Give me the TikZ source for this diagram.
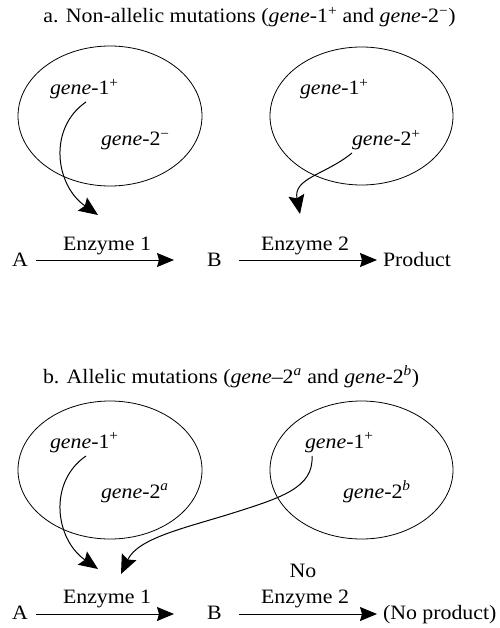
\documentclass[tikz,border=0pt]{standalone}
\usepackage{fontspec}
\setmainfont{Liberation Serif}[FakeStretch=1.07]
\usetikzlibrary{arrows.meta}
\newcommand{\gn}{\textit{gene}}
\newcommand{\mns}{\textsuperscript{\char"2212}}
\begin{document}
\begin{tikzpicture}[x=1bp,y=-1bp,
  txt/.style={inner sep=0pt,outer sep=0pt,anchor=base west,font=\fontsize{20.5}{24}\selectfont},
  flow/.style={line width=1bp,-{Stealth[length=17bp,width=14bp,inset=2bp]}},
  gact/.style={line width=1bp,-{Stealth[length=19bp,width=16bp,inset=3bp]}}]
\useasboundingbox (0,0) rectangle (500,628);
% ---------- part a ----------
\node[txt,anchor=base] (ta) at (249.5,23) {a. Non-allelic mutations (\gn-1\textsuperscript{+} and \gn-2\mns)};
\draw[line width=0.8bp] (110,116) ellipse [x radius=92,y radius=70];
\draw[line width=0.8bp] (361.5,116) ellipse [x radius=91.5,y radius=69];
\node[txt] (a11) at (50,95) {\gn-1\textsuperscript{+}};
\node[txt] (a12) at (101,146) {\gn-2\mns};
\node[txt] (a21) at (300,95) {\gn-1\textsuperscript{+}};
\node[txt] (a22) at (352,146) {\gn-2\textsuperscript{+}};
\node[txt] (aA) at (12,266) {A};
\node[txt] (aE1) at (63,250) {Enzyme 1};
\node[txt] (aB) at (207,266) {B};
\node[txt] (aE2) at (261,250) {Enzyme 2};
\node[txt] (aP) at (383,266) {Product};
\coordinate (aAr) at (36,260);
\coordinate (aBl) at (174,260);
\coordinate (aBr) at (239,260);
\coordinate (aPl) at (377,260);
\coordinate (ag1) at (86,102);
\coordinate (at1) at (98,215);
\coordinate (ag2) at (352,153);
\coordinate (at2) at (300,214);
\draw[flow] (aAr) -- (aBl);
\draw[flow] (aBr) -- (aPl);
\draw[gact] (ag1) .. controls (48,128) and (55,185) .. (at1);
\draw[gact] (ag2) .. controls (325,175) and (293,178) .. (at2);
% ---------- part b ----------
\node[txt] (tb) at (43,383) {b. Allelic mutations (\gn--2\textsuperscript{\textit{a}} and \gn-2\textsuperscript{\textit{b}})};
\draw[line width=0.8bp] (110,470) ellipse [x radius=92,y radius=69];
\draw[line width=0.8bp] (361.5,470) ellipse [x radius=91.5,y radius=69];
\node[txt] (b11) at (50,448) {\gn-1\textsuperscript{+}};
\node[txt] (b12) at (101,498) {\gn-2\textsuperscript{\textit{a}}};
\node[txt] (b21) at (305,448) {\gn-1\textsuperscript{+}};
\node[txt] (b22) at (343,498) {\gn-2\textsuperscript{\textit{b}}};
\node[txt,anchor=base] (bNo) at (303,577) {No};
\node[txt] (bE2) at (261,603) {Enzyme 2};
\node[txt] (bE1) at (63,603) {Enzyme 1};
\node[txt] (bA) at (12,619) {A};
\node[txt] (bB) at (207,619) {B};
\node[txt] (bP) at (383,619) {(No product)};
\coordinate (bAr) at (36,614);
\coordinate (bBl) at (174,614);
\coordinate (bBr) at (239,614);
\coordinate (bPl) at (377,614);
\coordinate (bg1) at (86,456);
\coordinate (bt1) at (98,569);
\coordinate (bg2) at (312,456);
\coordinate (bmid) at (233,513);
\coordinate (bt2) at (121,574);
\draw[flow] (bAr) -- (bBl);
\draw[flow] (bBr) -- (bPl);
\draw[gact] (bg1) .. controls (48,482) and (55,539) .. (bt1);
\draw[gact] (bg2) .. controls (314,488) and (280,498) .. (bmid) .. controls (185,528) and (138,538) .. (bt2);
\end{tikzpicture}
\end{document}
